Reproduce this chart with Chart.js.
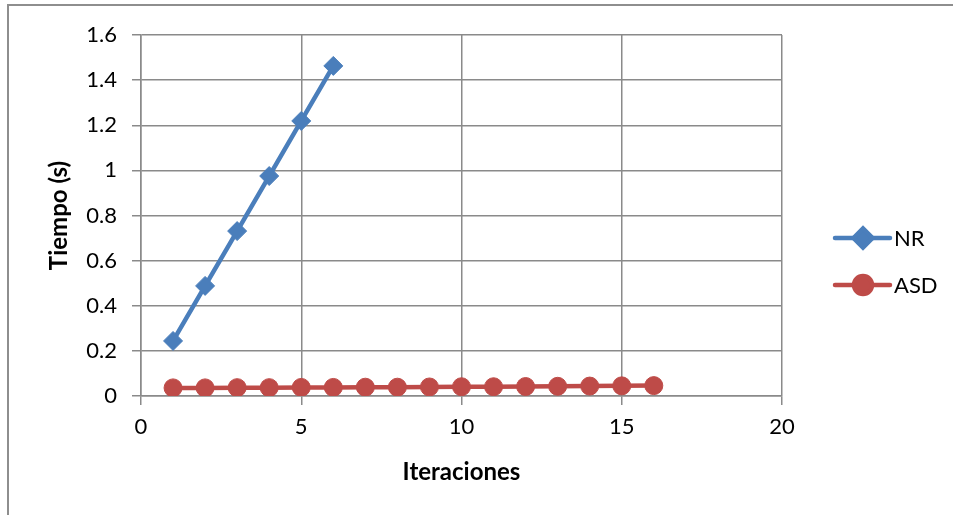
<!DOCTYPE html>
<html>
<head>
<meta charset="utf-8">
<title>Tiempo vs Iteraciones</title>
<script src="https://cdn.jsdelivr.net/npm/chart.js@4.4.1/dist/chart.umd.min.js"></script>
<style>
  html, body { margin: 0; padding: 0; background: #fff; }
  #wrap { position: relative; width: 953px; height: 515px; overflow: hidden; }
  #frame {
    position: absolute; left: 7px; top: 4px; width: 946px; height: 520px;
    border-left: 2px solid #8e8e8e; border-top: 2px solid #8e8e8e;
  }
  #chart { position: absolute; left: 0; top: 0; }
</style>
</head>
<body>
<div id="wrap">
  <div id="frame"></div>
  <canvas id="chart" width="953" height="515"></canvas>
</div>
<script>
// ---- data ----
const seriesNames = ['NR', 'ASD'];
const nrIter = [1, 2, 3, 4, 5, 6];
const nrTiempo = [0.244, 0.488, 0.731, 0.975, 1.219, 1.463];
const asdIter = [1, 2, 3, 4, 5, 6, 7, 8, 9, 10, 11, 12, 13, 14, 15, 16];
const asdTiempo = [0.036, 0.036, 0.037, 0.037, 0.038, 0.038, 0.039, 0.039,
                   0.040, 0.041, 0.041, 0.042, 0.043, 0.044, 0.045, 0.046];
const xTicks = { min: 0, max: 20, step: 5 };
const yTicks = { min: 0, max: 1.6, step: 0.2 };

const FONT = "Lato, 'Open Sans', 'DejaVu Sans', sans-serif";
const GRID = '#8a8a8a';
const BLUE = '#4a7ebb';
const RED = '#be4b48';

// legend on the right, line + marker samples
const lineLegend = {
  id: 'lineLegend',
  afterDraw(chart) {
    const ctx = chart.ctx;
    const area = chart.chartArea;
    const x0 = area.right + 53;
    const rows = [238, 285];
    ctx.save();
    chart.data.datasets.forEach((ds, i) => {
      const y = rows[i];
      ctx.strokeStyle = ds.borderColor;
      ctx.lineWidth = ds.borderWidth;
      ctx.lineCap = 'round';
      ctx.beginPath();
      ctx.moveTo(x0, y);
      ctx.lineTo(x0 + 55, y);
      ctx.stroke();
      ctx.fillStyle = ds.pointBackgroundColor;
      ctx.strokeStyle = ds.pointBorderColor;
      Chart.helpers.drawPoint(ctx, {
        pointStyle: ds.pointStyle,
        radius: ds.pointRadius,
        borderWidth: ds.pointBorderWidth
      }, x0 + 28, y);
      ctx.fillStyle = '#000';
      ctx.font = '22px ' + FONT;
      ctx.textBaseline = 'middle';
      ctx.textAlign = 'left';
      ctx.fillText(ds.label, x0 + 59, y + 1);
    });
    ctx.restore();
  }
};

const toPoints = (xs, ys) => xs.map((x, i) => ({ x: x, y: ys[i] }));

new Chart(document.getElementById('chart'), {
  type: 'line',
  data: {
    datasets: [
      {
        label: seriesNames[0],
        data: toPoints(nrIter, nrTiempo),
        borderColor: BLUE,
        backgroundColor: BLUE,
        borderWidth: 4.5,
        pointStyle: 'rectRot',
        pointRadius: 9.5,
        pointBorderWidth: 1,
        pointBackgroundColor: BLUE,
        pointBorderColor: BLUE,
        tension: 0
      },
      {
        label: seriesNames[1],
        data: toPoints(asdIter, asdTiempo),
        borderColor: RED,
        backgroundColor: RED,
        borderWidth: 4.5,
        pointStyle: 'circle',
        pointRadius: 9,
        pointBorderWidth: 1,
        pointBackgroundColor: RED,
        pointBorderColor: RED,
        tension: 0
      }
    ]
  },
  options: {
    responsive: false,
    animation: false,
    layout: { padding: { left: 10, top: 35, right: 171, bottom: 0 } },
    plugins: {
      legend: { display: false },
      tooltip: { enabled: false }
    },
    scales: {
      x: {
        type: 'linear',
        min: xTicks.min,
        max: xTicks.max,
        afterFit: s => { s.height = 119; },
        ticks: {
          stepSize: xTicks.step,
          color: '#000',
          font: { family: FONT, size: 22 },
          padding: 9
        },
        grid: { color: GRID, lineWidth: 1.5, tickLength: 9, tickColor: GRID },
        border: { color: GRID, width: 1.5 },
        title: {
          display: true,
          text: 'Iteraciones',
          color: '#000',
          font: { family: FONT, size: 24, weight: 'bold' },
          padding: { top: 0, bottom: 28 }
        }
      },
      y: {
        min: yTicks.min,
        max: yTicks.max,
        afterFit: s => { s.width = 131; },
        ticks: {
          stepSize: yTicks.step,
          color: '#000',
          font: { family: FONT, size: 22 },
          padding: 15,
          callback: v => String(+v.toFixed(1))
        },
        grid: { color: GRID, lineWidth: 1.5, tickLength: 9, tickColor: GRID },
        border: { color: GRID, width: 1.5 },
        title: {
          display: true,
          text: 'Tiempo (s)',
          color: '#000',
          font: { family: FONT, size: 24, weight: 'bold' },
          padding: { top: 35, bottom: 0 }
        }
      }
    }
  },
  plugins: [lineLegend]
});
</script>
</body>
</html>
